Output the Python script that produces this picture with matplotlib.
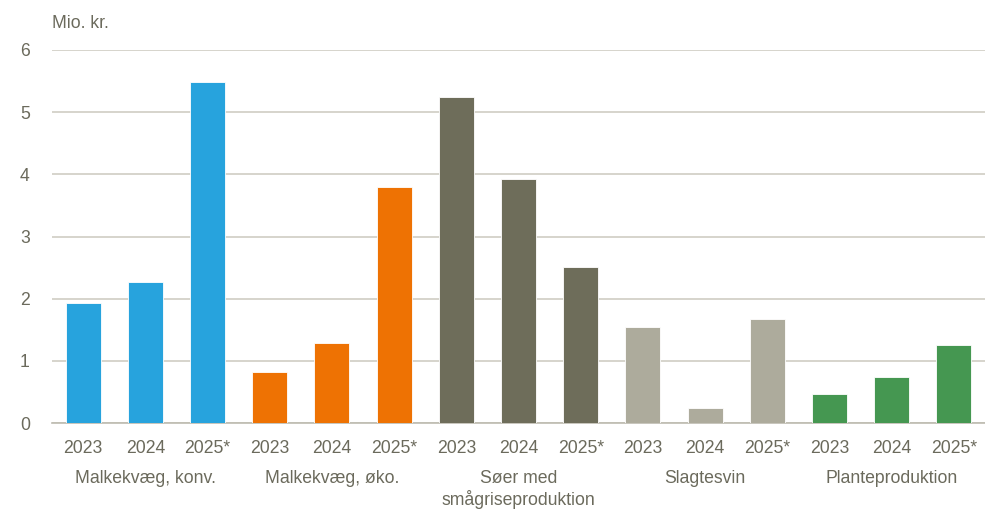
import matplotlib
matplotlib.use("Agg")
import matplotlib.pyplot as plt
import numpy as np

plt.rcParams["font.family"] = ["Liberation Sans", "DejaVu Sans"]

groups = ["Malkekvæg, konv.", "Malkekvæg, øko.", "Søer med\nsmågriseproduktion",
          "Slagtesvin", "Planteproduktion"]
years = ["2023", "2024", "2025*"]
values = [
    [1.93, 2.27, 5.49],
    [0.82, 1.29, 3.80],
    [5.24, 3.92, 2.51],
    [1.54, 0.24, 1.67],
    [0.47, 0.74, 1.25],
]
colors = ["#27A3DD", "#EE7203", "#6E6D5A", "#ADAB9C", "#459751"]

text_col = "#6B6A5C"
grid_col = "#CFCDC4"
fs = 12.7

fig = plt.figure(figsize=(9.85, 5.12), dpi=100)
ax = fig.add_axes([52 / 985, (512 - 423) / 512, 933 / 985, 373 / 512])

pos = 0
xticks, xlabels = [], []
for g, vals in enumerate(values):
    xs = np.arange(pos, pos + len(vals))
    ax.bar(xs, vals, width=0.56, color=colors[g], edgecolor="white", linewidth=0.6, zorder=3)
    xticks.extend(xs)
    xlabels.extend(years)
    ax.text(xs.mean(), -0.76, groups[g], ha="center", va="top", fontsize=fs,
            color=text_col, linespacing=1.2)
    pos += len(vals)

ax.set_xlim(-0.5, pos - 0.5)
ax.set_ylim(0, 6)
ax.set_yticks(range(0, 7))
ax.set_xticks(xticks)
ax.set_xticklabels(xlabels)
ax.tick_params(axis="both", length=0, labelsize=fs, labelcolor=text_col)
ax.tick_params(axis="x", pad=12)
ax.tick_params(axis="y", pad=16)
ax.grid(axis="y", color=grid_col, linewidth=1.2, zorder=0)
for s in ["top", "right", "left"]:
    ax.spines[s].set_visible(False)
ax.spines["bottom"].set_color("#BDBBB0")
ax.spines["bottom"].set_linewidth(1.2)

fig.text(52 / 985, 1 - 24 / 512, "Mio. kr.", ha="left", va="center", fontsize=fs, color=text_col)

fig.savefig("out.png", dpi=100)
